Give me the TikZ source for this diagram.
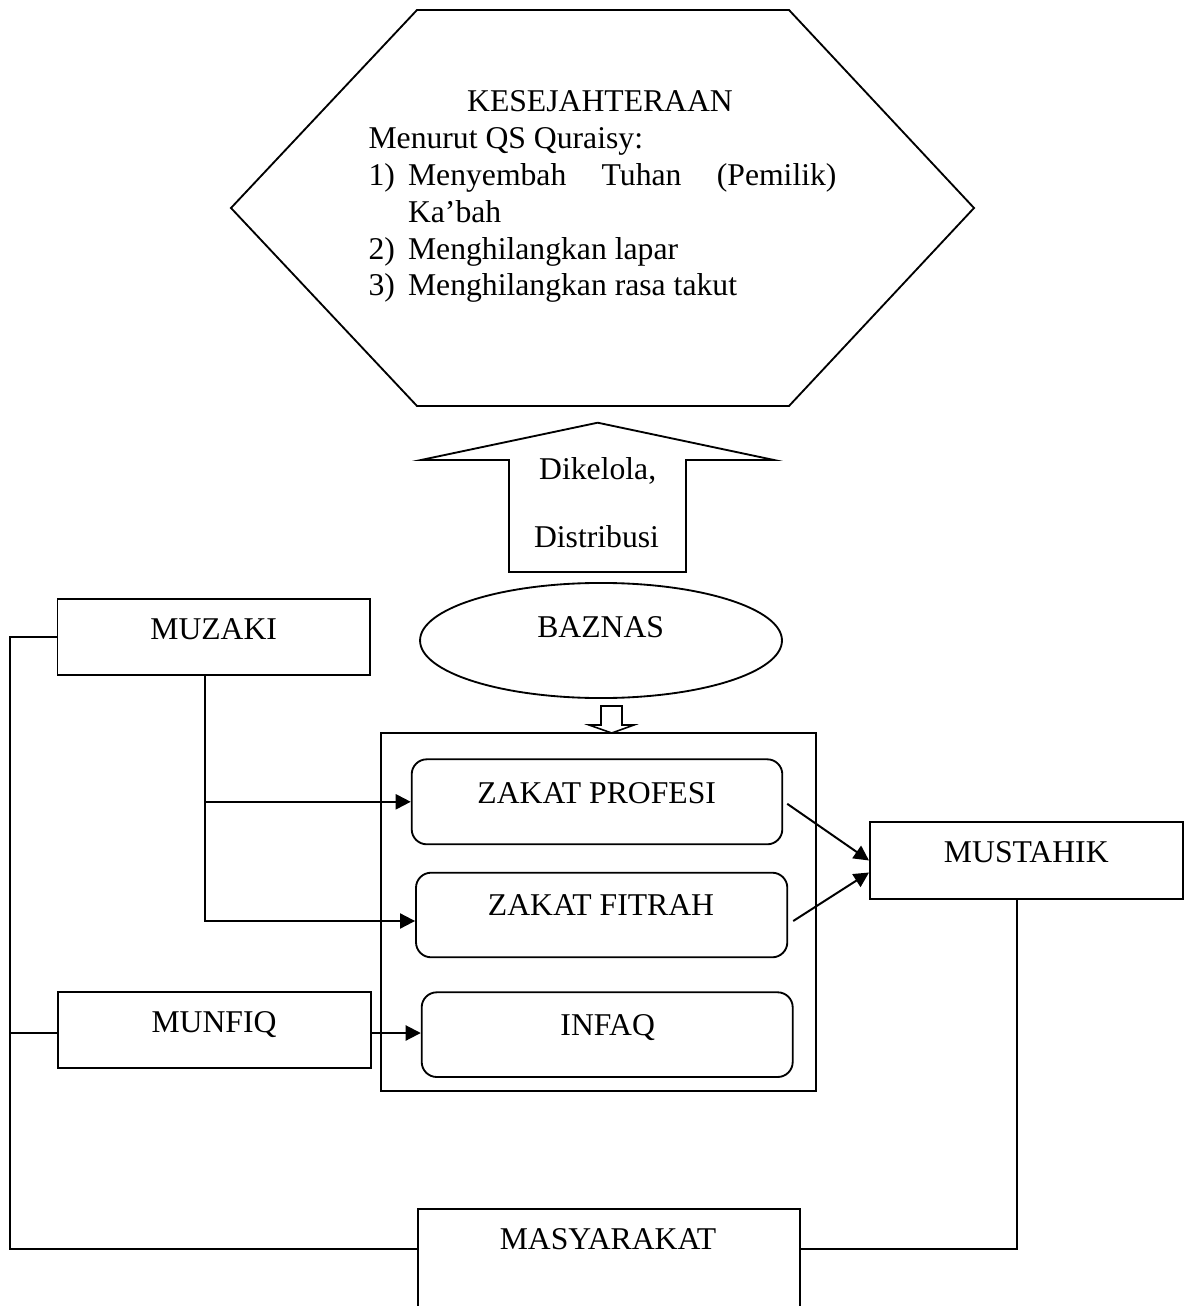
\documentclass[tikz,border=0pt]{standalone}
\usepackage{fontspec}
\setmainfont{Liberation Serif}
\usetikzlibrary{arrows.meta,fit,calc,shapes.geometric}
\begin{document}
\begin{tikzpicture}[x=0.3788pt,y=-0.3788pt,
  every node/.style={font=\fontsize{12pt}{13.8pt}\selectfont},
  ln/.style={line width=0.7pt},
  boxx/.style={draw,line width=0.75pt,inner sep=0pt,rectangle},
  rbox/.style={draw,line width=0.7pt,inner sep=0pt,rectangle,rounded corners=5.7pt},
  txt/.style={inner sep=0pt,anchor=base},
  ltxt/.style={inner sep=0pt,anchor=base west},
  arr/.style={line width=0.75pt,-{Triangle[length=5.7pt,width=5.7pt]}}]
\useasboundingbox (0,0) rectangle (1184,1306);
\fill[white] (0,0) rectangle (1184,1306);

% hexagon
\draw[ln] (417,10) -- (789,10) -- (974,208) -- (789,406) -- (417,406) -- (231,208) -- cycle;
\node[txt] (kes) at (600,112) {KESEJAHTERAAN};
\node[ltxt] (men) at (368,149) {Menurut QS Quraisy:};
\node[ltxt] (n1) at (368,186) {1)};
\node[ltxt] (l1) at (407.5,186) {\hbox to 162.3pt{Menyembah\hfill Tuhan\hfill (Pemilik)}};
\node[ltxt] (l1b) at (407.5,222.7) {Ka’bah};
\node[ltxt] (n2) at (368,259.3) {2)};
\node[ltxt] (l2) at (407.5,259.3) {Menghilangkan lapar};
\node[ltxt] (n3) at (368,296) {3)};
\node[ltxt] (l3) at (407.5,296) {Menghilangkan rasa takut};

% big up arrow
\draw[ln] (597.7,422.7) -- (774,460) -- (686,460) -- (686,572) -- (509,572) -- (509,460) -- (421,460) -- cycle;
\node[txt] (dik) at (597.7,480) {Dikelola,};
\node[txt] (dis) at (596.5,547) {Distribusi};

% BAZNAS
\node[draw,ellipse,line width=0.7pt,minimum width=137.1pt,minimum height=43.6pt,inner sep=0pt] (baznas) at (601,640.5) {};
\node[txt] at (600.7,637) {BAZNAS};

% small down arrow
\draw[line width=0.6pt] (601,706) -- (622,706) -- (622,725) -- (634,725) -- (611.7,733) -- (589,725) -- (601,725) -- cycle;

% container
\node[boxx,line width=0.6pt,fit={(381,733) (816,1091)}] (pool) {};

% boxes
\node[boxx,fit={(57.5,599) (370,675)}] (muzaki) {};
\node[txt] at (213.7,639) {MUZAKI};
\node[boxx,fit={(58,992) (371,1068)}] (munfiq) {};
\node[txt] at (214,1032) {MUNFIQ};
\node[boxx,fit={(870,822) (1182.5,899)}] (mustahik) {};
\node[txt] at (1026.3,862.7) {MUSTAHIK};
\node[boxx,fit={(418,1209) (800,1315)}] (masy) {};
\node[txt] at (608,1249) {MASYARAKAT};

\node[rbox,fit={(411.7,759.3) (782.3,844.3)}] (profesi) {};
\node[txt] at (596.7,803) {ZAKAT PROFESI};
\node[rbox,fit={(416,872.7) (787.3,957.3)}] (fitrah) {};
\node[txt] at (601,915) {ZAKAT FITRAH};
\node[rbox,fit={(421.7,992.3) (792.7,1077)}] (infaq) {};
\node[txt] at (607.7,1035) {INFAQ};

% connectors
\coordinate (L) at (10,1249);
\coordinate (R) at (1017,1249);
\coordinate (M) at (205,805);
\coordinate (F) at (205,1033);
\draw[ln] (muzaki.west) -| (L) -- (L -| masy.west);
\draw[ln] (munfiq.west |- F) -- (F -| L);
\draw[ln] (R |- mustahik.south) -- (R) -- (R -| masy.east);
\draw[ln] (M |- muzaki.south) |- ($(fitrah.west)+(-5,6)$);
\draw[arr] ($(M |- fitrah.west)+(0,6)$) -- ($(fitrah.west)+(0,6)$);
\draw[arr] (M |- profesi.west) -- (profesi.west);
\draw[arr] (munfiq.east |- F) -- (infaq.west |- F);
\draw[arr] ($(profesi.east)+(4,2)$) -- (mustahik.west);
\draw[arr] ($(fitrah.east)+(5,6)$) -- ($(mustahik.west)+(0,12)$);
\end{tikzpicture}
\end{document}
